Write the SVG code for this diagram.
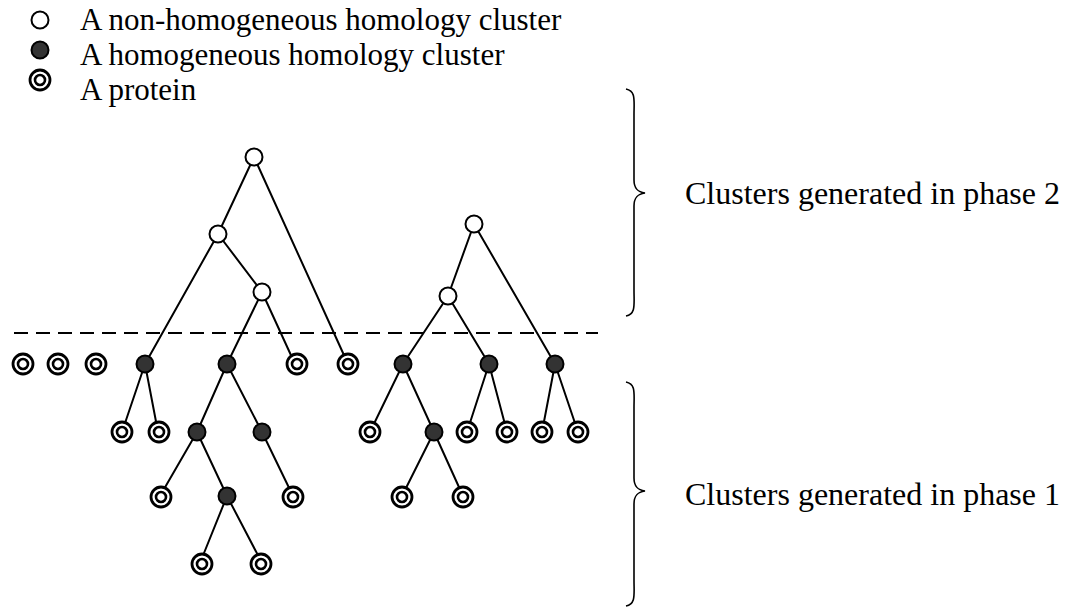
<svg xmlns="http://www.w3.org/2000/svg" width="1067" height="607" viewBox="0 0 1067 607">
<style>
.t{font-family:"Liberation Serif","Times New Roman",serif;fill:#000}
.lg{font-size:31px}
.ph{font-size:32px}
.e{stroke:#000;stroke-width:2;fill:none}
.br{stroke:#000;stroke-width:1.6;fill:none}
.open{fill:#fff;stroke:#000;stroke-width:2}
.fill{fill:#333;stroke:#000;stroke-width:2}
.po{fill:#fff;stroke:#000;stroke-width:2.8}
.pi{fill:none;stroke:#000;stroke-width:2.6}
</style>
<defs>
<g id="prot"><circle r="10" class="po"/><circle r="5" class="pi"/></g>
<circle id="hom" r="8.5" class="fill"/>
<circle id="non" r="8.5" class="open"/>
</defs>
<rect width="1067" height="607" fill="#fff"/>
<g id="legend">
<use href="#non" x="40" y="20"/>
<use href="#hom" x="40" y="50"/>
<use href="#prot" x="40" y="80"/>
<text class="t lg" x="80" y="30">A non-homogeneous homology cluster</text>
<text class="t lg" x="80" y="65">A homogeneous homology cluster</text>
<text class="t lg" x="80" y="100">A protein</text>
</g>
<g id="connectors">
<line x1="14" y1="333" x2="598" y2="333" stroke="#000" stroke-width="2" stroke-dasharray="14,8"/>
<path class="e" d="M254,157 L218,234 M254,157 L348,364 M218,234 L145,364 M218,234 L262,292 M262,292 L227,364 M262,292 L295,364 M145,364 L122,432 M145,364 L158,432 M227,364 L197,432 M227,364 L262,432 M197,432 L160,496 M197,432 L227,496 M262,432 L293,496 M227,496 L200,563 M227,496 L262,563 M474,224 L448,296 M474,224 L555,364 M448,296 L403,364 M448,296 L489,364 M403,364 L370,432 M403,364 L434,432 M434,432 L402,496 M434,432 L463,496 M489,364 L467,432 M489,364 L507,432 M555,364 L542,432 M555,364 L578,432"/>
</g>
<g id="n1"><use href="#non" x="254" y="157"/></g>
<g id="n2"><use href="#non" x="218" y="234"/></g>
<g id="n3"><use href="#non" x="262" y="292"/></g>
<g id="n4"><use href="#non" x="474" y="224"/></g>
<g id="n5"><use href="#non" x="448" y="296"/></g>
<g id="h1"><use href="#hom" x="145" y="364"/></g>
<g id="h2"><use href="#hom" x="227" y="364"/></g>
<g id="h3"><use href="#hom" x="403" y="364"/></g>
<g id="h4"><use href="#hom" x="489" y="364"/></g>
<g id="h5"><use href="#hom" x="555" y="364"/></g>
<g id="h6"><use href="#hom" x="197" y="432"/></g>
<g id="h7"><use href="#hom" x="262" y="432"/></g>
<g id="h8"><use href="#hom" x="434" y="432"/></g>
<g id="h9"><use href="#hom" x="227" y="496"/></g>
<g id="p1"><use href="#prot" x="23" y="364"/></g>
<g id="p2"><use href="#prot" x="58" y="364"/></g>
<g id="p3"><use href="#prot" x="96" y="364"/></g>
<g id="p4"><use href="#prot" x="297" y="364"/></g>
<g id="p5"><use href="#prot" x="348" y="364"/></g>
<g id="p6"><use href="#prot" x="122" y="432"/></g>
<g id="p7"><use href="#prot" x="159" y="432"/></g>
<g id="p8"><use href="#prot" x="370" y="432"/></g>
<g id="p9"><use href="#prot" x="467" y="432"/></g>
<g id="p10"><use href="#prot" x="507" y="432"/></g>
<g id="p11"><use href="#prot" x="542" y="432"/></g>
<g id="p12"><use href="#prot" x="578" y="432"/></g>
<g id="p13"><use href="#prot" x="161" y="497"/></g>
<g id="p14"><use href="#prot" x="293" y="497"/></g>
<g id="p15"><use href="#prot" x="402" y="497"/></g>
<g id="p16"><use href="#prot" x="463" y="497"/></g>
<g id="p17"><use href="#prot" x="202" y="564"/></g>
<g id="p18"><use href="#prot" x="261" y="564"/></g>
<g id="brace2">
<path class="br" d="M626,89 C636,91 634,100 634,115 L634,180 C634,189 638,192 645,193 C638,194 634,197 634,206 L634,290 C634,305 636,314 626,316"/>
<text class="t ph" x="685" y="204">Clusters generated in phase 2</text>
</g>
<g id="brace1">
<path class="br" d="M626,382 C636,384 634,393 634,408 L634,478 C634,487 638,490 645,491 C638,492 634,495 634,504 L634,580 C634,595 636,604 626,606"/>
<text class="t ph" x="685" y="505">Clusters generated in phase 1</text>
</g>
</svg>
